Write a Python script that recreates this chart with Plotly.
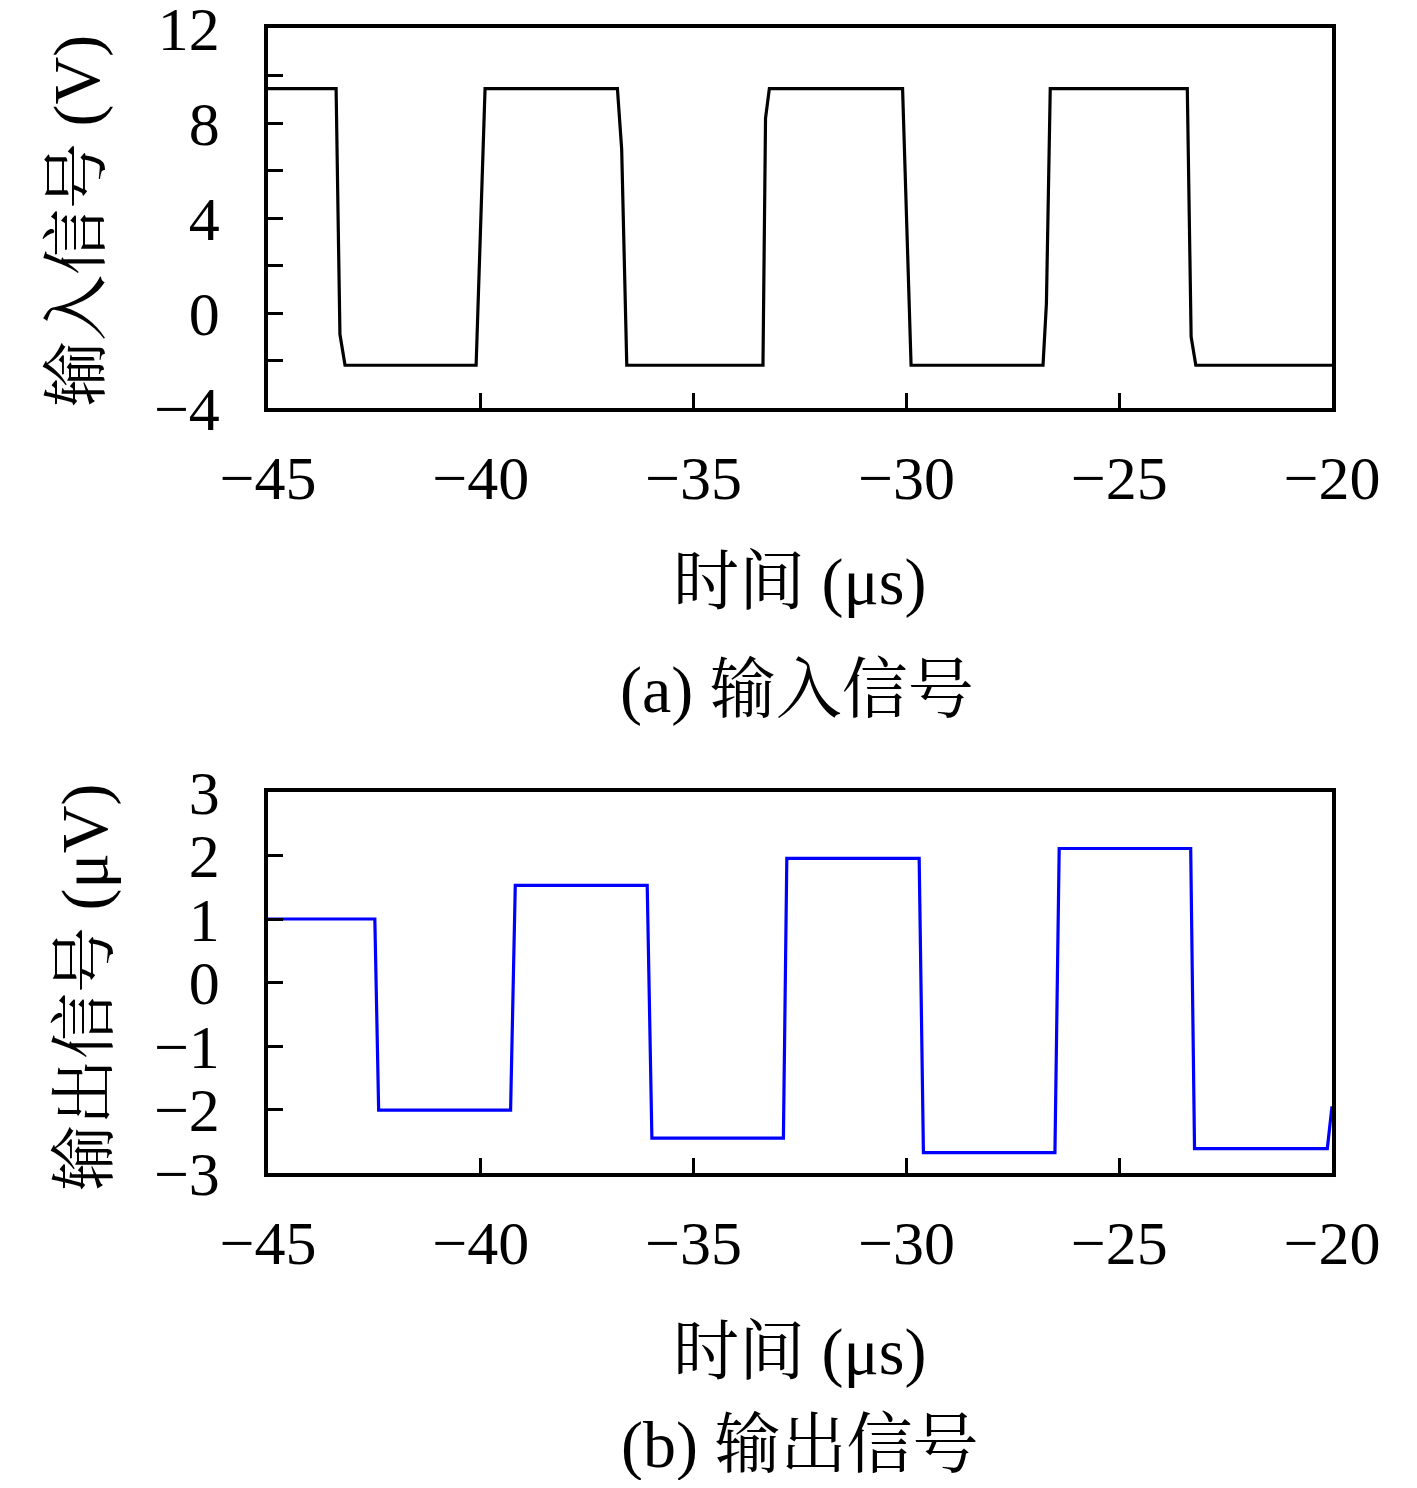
import plotly.graph_objects as go

# input signal (V) vs time (us)
t_in = [-45, -43.40, -43.31, -43.19, -40.11, -39.90, -36.79, -36.69, -36.57,
        -33.37, -33.31, -33.22, -30.09, -29.89, -26.79, -26.71, -26.62,
        -23.40, -23.31, -23.20, -20]
v_in = [9.45, 9.45, -0.9, -2.2, -2.2, 9.45, 9.45, 6.9, -2.2,
        -2.2, 8.2, 9.45, 9.45, -2.2, -2.2, 0.4, 9.45,
        9.45, -1.0, -2.2, -2.2]

# output signal (uV) vs time (us)
t_out = [-45, -42.49, -42.40, -39.30, -39.19, -36.09, -35.98, -32.89, -32.81,
         -29.70, -29.60, -26.51, -26.41, -23.32, -23.23, -20.11, -20.0]
v_out = [1.0, 1.0, -2.01, -2.01, 1.53, 1.53, -2.45, -2.45, 1.955,
         1.955, -2.68, -2.68, 2.11, 2.11, -2.615, -2.615, -1.95]

x_ticks = [-45, -40, -35, -30, -25, -20]
y1_ticks = [-4, -2, 0, 2, 4, 6, 8, 10, 12]
y1_text = ["−4", "", "0", "", "4", "", "8", "", "12"]
y2_ticks = [-3, -2, -1, 0, 1, 2, 3]

# the page body has an 8px margin, so the figure is a bit smaller
OFF = 8
W, H = 1417 - 2 * OFF, 1488 - 2 * OFF


def px(x):
    return (x - OFF) / W


def py(y):
    return 1 - (y - OFF) / H


serif = "Liberation Serif, Noto Serif CJK SC, Noto Sans CJK SC, serif"

fig = go.Figure()
fig.add_trace(go.Scatter(x=t_in, y=v_in, mode="lines",
                         line=dict(color="black", width=3.2),
                         xaxis="x", yaxis="y", showlegend=False))
fig.add_trace(go.Scatter(x=t_out, y=v_out, mode="lines",
                         line=dict(color="#0000ff", width=3.2),
                         xaxis="x2", yaxis="y2", showlegend=False))

ax = dict(showline=True, linecolor="black", linewidth=3.5, mirror=True,
          ticks="inside", ticklen=15, tickwidth=3, tickcolor="black",
          showgrid=False, zeroline=False, automargin=False,
          ticklabeloverflow="allow",
          tickfont=dict(family=serif, size=62, color="black"))

xdom = [px(268), px(1332)]
fig.update_layout(
    width=W, height=H,
    margin=dict(l=0, r=0, t=0, b=0),
    paper_bgcolor="white", plot_bgcolor="white",
    xaxis=dict(ax, domain=xdom, range=[-45, -20], tickvals=x_ticks,
               anchor="y", ticklabelstandoff=13),
    yaxis=dict(ax, domain=[py(408), py(28)], range=[-4, 12],
               tickvals=y1_ticks, ticktext=y1_text, anchor="x",
               ticklabelstandoff=32),
    xaxis2=dict(ax, domain=xdom, range=[-45, -20], tickvals=x_ticks,
                anchor="y2", ticklabelstandoff=13),
    yaxis2=dict(ax, domain=[py(1173), py(792)], range=[-3, 3],
                tickvals=y2_ticks, anchor="x2", ticklabelstandoff=32),
)

labels = [
    ("时间 (μs)", 800, 582, 0),
    ("(a) 输入信号", 797, 690, 0),
    ("输入信号 (V)", 77, 221, -90),
    ("时间 (μs)", 800, 1352, 0),
    ("(b) 输出信号", 799, 1445, 0),
    ("输出信号 (μV)", 85, 987, -90),
]
for txt, lx, ly, ang in labels:
    fig.add_annotation(text=txt, x=px(lx), y=py(ly), xref="paper", yref="paper",
                       xanchor="center", yanchor="middle", showarrow=False,
                       textangle=ang, font=dict(family=serif, size=66, color="black"))

fig.write_html("out.html")
